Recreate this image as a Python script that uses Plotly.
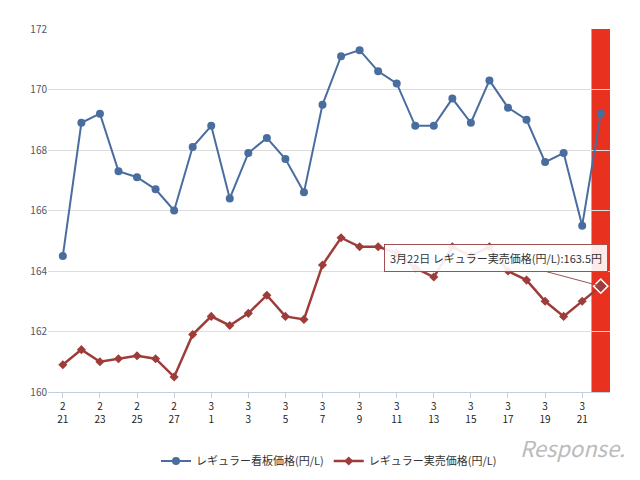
import plotly.graph_objects as go

# dates 2/21 .. 3/22
months = [2] * 8 + [3] * 22
days = list(range(21, 29)) + list(range(1, 23))

signboard = [164.5, 168.9, 169.2, 167.3, 167.1, 166.7, 166.0, 168.1, 168.8, 166.4,
             167.9, 168.4, 167.7, 166.6, 169.5, 171.1, 171.3, 170.6, 170.2, 168.8,
             168.8, 169.7, 168.9, 170.3, 169.4, 169.0, 167.6, 167.9, 165.5, 169.2]
actual = [160.9, 161.4, 161.0, 161.1, 161.2, 161.1, 160.5, 161.9, 162.5, 162.2,
          162.6, 163.2, 162.5, 162.4, 164.2, 165.1, 164.8, 164.8, 164.6, 164.1,
          163.8, 164.8, 164.5, 164.8, 164.0, 163.7, 163.0, 162.5, 163.0, 163.5]

x = list(range(len(days)))
tickvals = x[:-1:2]
ticktext = [f"{months[i]}<br>{days[i]}" for i in tickvals]

fig = go.Figure()
fig.add_shape(type="rect", xref="x", yref="y", x0=x[-1] - 0.5, x1=x[-1] + 0.5,
              y0=160, y1=172, fillcolor="#e8321f", line_width=0, layer="below")

fig.add_trace(go.Scatter(x=x, y=signboard, mode="lines+markers", name="レギュラー看板価格(円/L)",
                         line=dict(color="#4a6d9f", width=2), marker=dict(size=8, color="#4a6d9f")))
fig.add_trace(go.Scatter(x=x, y=actual, mode="lines+markers", name="レギュラー実売価格(円/L)",
                         line=dict(color="#9e3c3a", width=2.5),
                         marker=dict(size=7, symbol="diamond", color="#9e3c3a")))
# highlighted point
fig.add_trace(go.Scatter(x=[x[-1]], y=[actual[-1]], mode="markers", showlegend=False,
                         marker=dict(size=11, symbol="diamond", color="#9e3c3a",
                                     line=dict(color="white", width=1.5))))

fig.add_annotation(x=x[-1], y=actual[-1], text=f"3月22日 レギュラー実売価格(円/L):{actual[-1]}円",
                   showarrow=True, arrowhead=0, arrowcolor="#a05050", ax=-105, ay=-28,
                   bgcolor="rgba(255,255,255,0.9)", bordercolor="#a05050", borderwidth=1,
                   borderpad=5, font=dict(size=11, color="#333"))
fig.add_annotation(xref="paper", yref="paper", x=1.03, y=-0.2, text="<i>Response.</i>",
                   showarrow=False, font=dict(size=22, color="#bbbbbb"), xanchor="right")

fig.update_layout(
    width=640, height=480, plot_bgcolor="white", paper_bgcolor="white",
    margin=dict(l=40, r=38, t=16, b=89),
    font=dict(family="Noto Sans CJK JP", size=11, color="#333"),
    xaxis=dict(range=[-0.8, x[-1] + 0.5], tickvals=tickvals, ticktext=ticktext,
               showgrid=False, showline=True, linecolor="#c0d0e0", ticks="outside",
               tickcolor="#c0d0e0", zeroline=False, tickfont=dict(size=10, color="#222")),
    yaxis=dict(range=[160, 172], dtick=2, gridcolor="#dddddd", zeroline=False,
               tickfont=dict(size=10, color="#556")),
    legend=dict(orientation="h", x=0.5, xanchor="center", y=-0.15, yanchor="top",
                font=dict(size=11)),
)

fig.write_html("out.html")
